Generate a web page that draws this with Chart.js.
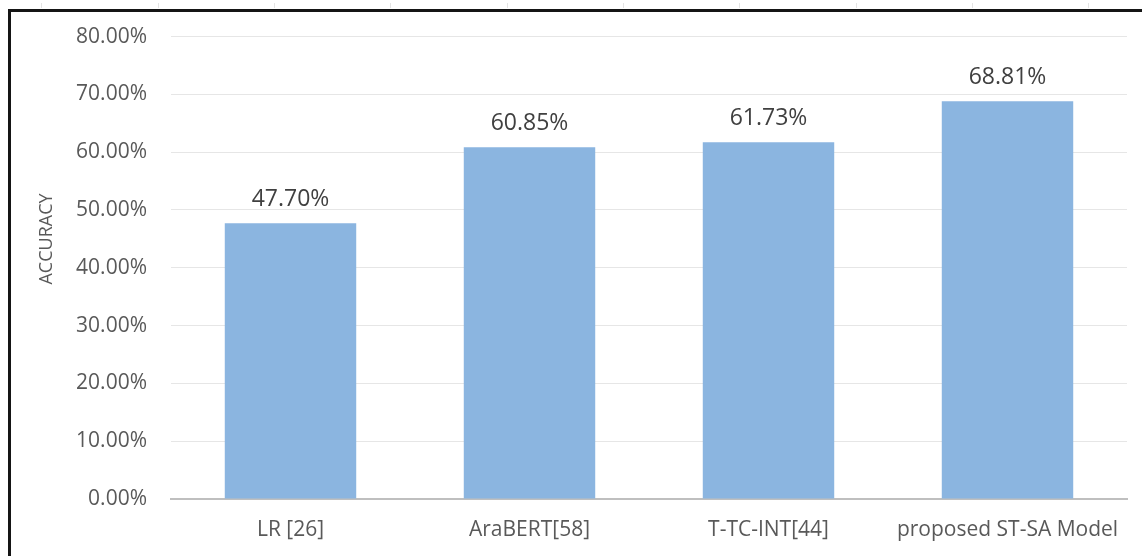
<!DOCTYPE html>
<html>
<head>
<meta charset="utf-8">
<script src="https://cdn.jsdelivr.net/npm/chart.js@4"></script>
<style>
  html, body { margin: 0; padding: 0; background: #fff; overflow: hidden; }
  #wrap { position: relative; width: 1142px; height: 556px; }
  #ruler {
    position: absolute; left: 0; top: 3px; width: 1142px; height: 5px;
    background: repeating-linear-gradient(to right, transparent 0, transparent 41.5px, #e4e4e4 41.5px, #e4e4e4 42.5px, transparent 42.5px, transparent 116.3px);
  }
  #frame {
    position: absolute; left: 8px; top: 9px; width: 2000px; height: 1000px;
    border: 3px solid #151515; box-sizing: border-box;
  }
  #chart { position: absolute; left: 0; top: 0; }
</style>
</head>
<body>
<div id="wrap">
  <div id="ruler"></div>
  <div id="frame"></div>
  <canvas id="chart" width="1142" height="556"></canvas>
</div>
<script>
// values
const categories = ["LR [26]", "AraBERT[58]", "T-TC-INT[44]", "proposed ST-SA Model"];
const accuracy = [47.70, 60.85, 61.73, 68.81];
const yTicks = [0, 10, 20, 30, 40, 50, 60, 70, 80];
const yTitle = "ACCURACY";

const FONT = "'Open Sans', 'Noto Sans', sans-serif";

// value labels above bars + axis title (sits a bit above the middle, like the Excel original)
const barLabels = {
  id: "barLabels",
  afterDatasetsDraw(chart) {
    const ctx = chart.ctx;
    const meta = chart.getDatasetMeta(0);
    ctx.save();
    ctx.font = "23px " + FONT;
    ctx.fillStyle = "#404040";
    ctx.textAlign = "center";
    ctx.textBaseline = "bottom";
    meta.data.forEach((bar, i) => {
      ctx.fillText(accuracy[i].toFixed(2) + "%", bar.x, bar.y - 12);
    });
    ctx.restore();

    ctx.save();
    ctx.translate(47, 239);
    ctx.rotate(-Math.PI / 2);
    ctx.font = "18px " + FONT;
    ctx.fillStyle = "#595959";
    ctx.textAlign = "center";
    ctx.textBaseline = "middle";
    ctx.fillText(yTitle, 0, 0);
    ctx.restore();
  }
};

new Chart(document.getElementById("chart"), {
  type: "bar",
  data: {
    labels: categories,
    datasets: [{
      label: "Accuracy",
      data: accuracy,
      backgroundColor: "#8BB5E0",
      borderWidth: 0,
      barPercentage: 0.55,
      categoryPercentage: 1.0,
    }],
  },
  options: {
    responsive: false,
    animation: false,
    layout: { padding: { top: 36, right: 15, bottom: 0, left: 0 } },
    plugins: {
      legend: { display: false },
      tooltip: { enabled: false },
    },
    scales: {
      x: {
        grid: { display: false, drawTicks: false },
        border: { color: "#bfbfbf", width: 2 },
        ticks: { color: "#595959", font: { family: FONT, size: 21 }, padding: 18, maxRotation: 0 },
        afterFit(scale) { scale.height = 57; },
      },
      y: {
        min: 0,
        max: 80,
        afterBuildTicks(scale) { scale.ticks = yTicks.map(v => ({ value: v })); },
        grid: { color: "#e6e6e6", lineWidth: 1, drawTicks: false },
        border: { display: false },
        ticks: {
          color: "#595959",
          font: { family: FONT, size: 21 },
          padding: 24,
          callback: v => v.toFixed(2) + "%",
        },
        afterFit(scale) { scale.width = 171; },
      },
    },
  },
  plugins: [barLabels],
});
</script>
</body>
</html>
